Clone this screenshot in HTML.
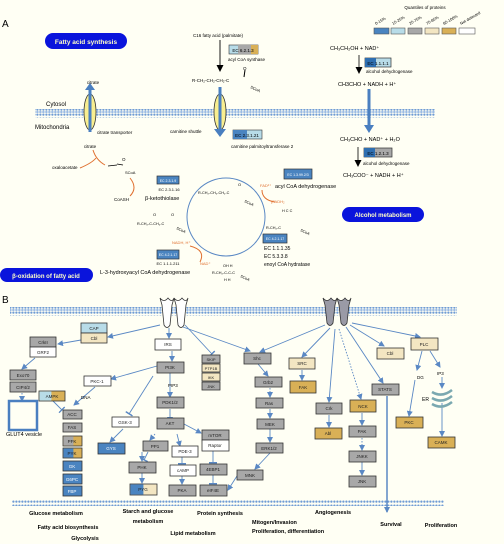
<!DOCTYPE html>
<html><head><meta charset="utf-8"><style>
html,body{margin:0;padding:0;background:#fffff4}
svg{display:block}
text{font-family:"Liberation Sans",sans-serif}
</style></head><body>
<svg width="504" height="544" viewBox="0 0 504 544" xmlns="http://www.w3.org/2000/svg">
<defs>
<pattern id="mem" width="3" height="9" patternUnits="userSpaceOnUse">
<rect width="3" height="9" fill="#fffff4"/>
<rect x="0.3" y="0.5" width="2.2" height="2.2" rx="1" fill="#6f9bd4"/>
<rect x="0.3" y="3" width="2.2" height="2" fill="#9bbbe4"/>
<rect x="0.3" y="5.5" width="2.2" height="2.2" rx="1" fill="#6f9bd4"/>
</pattern>
<marker id="ab" markerWidth="6" markerHeight="6" refX="5" refY="3" orient="auto" markerUnits="userSpaceOnUse"><path d="M0,0 L6,3 L0,6 Z" fill="#5a88c4"/></marker>
<marker id="ak" markerWidth="7" markerHeight="7" refX="6" refY="3.5" orient="auto" markerUnits="userSpaceOnUse"><path d="M0,0 L7,3.5 L0,7 Z" fill="#000"/></marker>
<marker id="tb" markerWidth="2" markerHeight="8" refX="1" refY="4" orient="auto" markerUnits="userSpaceOnUse"><rect width="1.5" height="8" fill="#5a88c4"/></marker>
</defs>
<rect width="504" height="544" fill="#fffff4"/>

<!-- Panel A -->
<text x="2" y="27" font-size="10">A</text>
<text x="425" y="9" font-size="4.5" text-anchor="middle">Quantiles of proteins</text>
<g font-size="4" transform="">
<text x="376" y="25" transform="rotate(-30 376 25)">0-15%</text>
<text x="393" y="25" transform="rotate(-30 393 25)">15-25%</text>
<text x="410" y="25" transform="rotate(-30 410 25)">25-75%</text>
<text x="427" y="25" transform="rotate(-30 427 25)">75-85%</text>
<text x="444" y="25" transform="rotate(-30 444 25)">85-100%</text>
<text x="461" y="25" transform="rotate(-30 461 25)">Not detected</text>
</g>
<g stroke="#555" stroke-width="0.6">
<rect x="374" y="28" width="15" height="6" fill="#4a84c0"/>
<rect x="391" y="28" width="14" height="6" fill="#b8dce8"/>
<rect x="408" y="28" width="14" height="6" fill="#a8a8a8"/>
<rect x="425" y="28" width="14" height="6" fill="#f3e6c2"/>
<rect x="442" y="28" width="14" height="6" fill="#d9b056"/>
<rect x="459" y="28" width="16" height="6" fill="#fff"/>
</g>

<rect x="45" y="33" width="82" height="16" rx="8" fill="#0a14dc"/>
<text x="86" y="44" font-size="6.5" font-weight="bold" fill="#ffffc8" text-anchor="middle">Fatty acid synthesis</text>

<rect x="35" y="109" width="400" height="9" fill="url(#mem)"/>
<text x="46" y="106" font-size="6">Cytosol</text>
<text x="35" y="129" font-size="6">Mitochondria</text>

<ellipse cx="90" cy="112" rx="6" ry="18" fill="#f8ee90" stroke="#333" stroke-width="0.8"/>
<line x1="90" y1="132" x2="90" y2="88" stroke="#4a7fc0" stroke-width="3"/>
<path d="M85,90 L90,83 L95,90 Z" fill="#4a7fc0"/>
<text x="93" y="84" font-size="4.5" text-anchor="middle">citrate</text>
<text x="97" y="134" font-size="4.5">citrate transporter</text>

<text x="218" y="37" font-size="4.5" text-anchor="middle">C16 fatty acid (palmitate)</text>
<line x1="220" y1="40" x2="220" y2="71" stroke="#000" stroke-width="0.9" marker-end="url(#ak)"/>
<rect x="229" y="45" width="29" height="9" fill="#b8dce8" stroke="#333" stroke-width="0.6"/>
<rect x="238" y="45" width="13" height="9" fill="#a8a8a8"/><rect x="251" y="45" width="7" height="9" fill="#d9b056"/>
<text x="243" y="52" font-size="4.5" text-anchor="middle">EC 6.2.1.3</text>
<text x="228" y="61" font-size="4.5">acyl CoA synthase</text>
<text x="192" y="82" font-size="4.5">R-CH₂-CH₂-CH₂-C</text>
<line x1="244" y1="77" x2="245" y2="70" stroke="#000" stroke-width="1"/>
<text x="243" y="70" font-size="4.5">O</text>
<text x="250" y="88" font-size="4" transform="rotate(25 250 88)">SCoA</text>
<ellipse cx="220" cy="112" rx="6" ry="18" fill="#f8ee90" stroke="#333" stroke-width="0.8"/>
<line x1="220" y1="87" x2="220" y2="130" stroke="#4a7fc0" stroke-width="3"/>
<path d="M214,129 L220,137 L226,129 Z" fill="#4a7fc0"/>
<text x="170" y="133" font-size="4.5">carnitine shuttle</text>
<rect x="233" y="130" width="29" height="9" fill="#b8dce8" stroke="#333" stroke-width="0.6"/>
<rect x="233" y="130" width="14" height="9" fill="#4a84c0"/>
<text x="247" y="137" font-size="4.5" text-anchor="middle">EC 2.3.1.21</text>
<text x="231" y="148" font-size="4.5">carnitine palmitoyltransferase 2</text>

<text x="330" y="50" font-size="5.5">CH₃CH₂OH + NAD⁺</text>
<line x1="359" y1="55" x2="359" y2="73" stroke="#000" stroke-width="0.8" marker-end="url(#ak)"/>
<rect x="365" y="58" width="26" height="9" fill="#b8dce8" stroke="#333" stroke-width="0.7"/>
<rect x="365" y="58" width="11" height="9" fill="#2f6fb0"/>
<text x="378" y="65" font-size="4.5" text-anchor="middle">EC 1.1.1.1</text>
<text x="366" y="73" font-size="4.5">alcohol dehydrogenase</text>
<text x="338" y="86" font-size="5.5">CH3CHO + NADH + H⁺</text>
<line x1="369" y1="89" x2="369" y2="126" stroke="#4a7fc0" stroke-width="3"/>
<path d="M364,125 L369,133 L374,125 Z" fill="#4a7fc0"/>
<text x="340" y="141" font-size="5.5">CH₃CHO + NAD⁺  + H₂O</text>
<line x1="358" y1="147" x2="358" y2="166" stroke="#000" stroke-width="0.8" marker-end="url(#ak)"/>
<rect x="364" y="148" width="28" height="9" fill="#a8a8a8" stroke="#333" stroke-width="0.7"/>
<rect x="364" y="148" width="11" height="9" fill="#2f6fb0"/>
<text x="378" y="155" font-size="4.5" text-anchor="middle">EC 1.2.1.3</text>
<text x="363" y="165" font-size="4.5">alcohol dehydrogenase</text>
<text x="343" y="177" font-size="5.5">CH₃COO⁻ + NADH + H⁺</text>

<rect x="342" y="207" width="82" height="15" rx="7.5" fill="#0a14dc"/>
<text x="383" y="217" font-size="6" font-weight="bold" fill="#ffffc8" text-anchor="middle">Alcohol metabolism</text>

<!-- TCA side -->
<text x="90" y="148" font-size="4.5" text-anchor="middle">citrate</text>
<text x="52" y="169" font-size="4.5">oxaloacetate</text>
<path d="M93,150 Q96,160 105,165 M80,168 Q92,163 96,158" stroke="#e07030" stroke-width="1" fill="none"/>
<path d="M108,166 L117,165" stroke="#000" stroke-width="0.8"/>
<line x1="117" y1="164" x2="123" y2="165" stroke="#000" stroke-width="0.8"/>
<text x="122" y="161" font-size="4.5">O</text>
<text x="125" y="174" font-size="4">SCoA</text>
<path d="M130,178 Q138,188 130,196" stroke="#e07030" stroke-width="1" fill="none"/>
<text x="114" y="201" font-size="4.5">CoASH</text>

<circle cx="226" cy="217" r="39" fill="none" stroke="#5a88c4" stroke-width="1"/>
<text x="198" y="194" font-size="3.8">R-CH₂-CH₂-CH₂-C</text>
<text x="238" y="186" font-size="4">O</text>
<text x="244" y="202" font-size="3.8" transform="rotate(25 244 202)">SCoA</text>
<rect x="157" y="176" width="22" height="8" fill="#4a84c0" stroke="#333" stroke-width="0.7"/>
<text x="168" y="182" font-size="3.5" fill="#fff" text-anchor="middle">EC 2.3.1.9</text>
<text x="169" y="191" font-size="4" text-anchor="middle">EC 2.3.1.16</text>
<text x="145" y="200" font-size="5.5">β-ketothiolase</text>
<rect x="284" y="169" width="28" height="10" fill="#4a84c0" stroke="#333" stroke-width="0.7"/>
<text x="298" y="176" font-size="3.5" fill="#fff" text-anchor="middle">EC 1.3.99.2/3</text>
<text x="275" y="188" font-size="5.5">acyl CoA dehydrogenase</text>
<text x="260" y="187" font-size="4" fill="#e07030">FAD²⁺</text>
<path d="M262,190 Q262,200 275,202" stroke="#e07030" stroke-width="1" fill="none"/>
<text x="271" y="203" font-size="4" fill="#e07030">(FADH₂</text>
<text x="282" y="212" font-size="3.8">H   C   C</text>
<text x="266" y="229" font-size="3.8">R-CH₂-C</text>
<text x="300" y="231" font-size="3.8" transform="rotate(25 300 231)">SCoA</text>
<rect x="263" y="234" width="24" height="9" fill="#4a84c0" stroke="#333" stroke-width="0.7"/>
<text x="275" y="240" font-size="3.5" fill="#fff" text-anchor="middle">EC 4.2.1.17</text>
<text x="264" y="250" font-size="5">EC 1.1.1.35</text>
<text x="264" y="258" font-size="5">EC 5.3.3.8</text>
<text x="264" y="266" font-size="5">enoyl CoA hydratase</text>
<text x="137" y="225" font-size="3.8">R-CH₂-C-CH₂-C</text>
<text x="153" y="216" font-size="4">O</text>
<text x="171" y="216" font-size="4">O</text>
<text x="176" y="229" font-size="3.8" transform="rotate(25 176 229)">SCoA</text>
<text x="172" y="244" font-size="4" fill="#e07030">NADH, H⁺</text>
<path d="M190,246 Q206,250 200,262" stroke="#e07030" stroke-width="1" fill="none"/>
<text x="200" y="265" font-size="4" fill="#e07030">NAD⁺</text>
<rect x="157" y="250" width="22" height="9" fill="#4a84c0" stroke="#333" stroke-width="0.7"/>
<text x="168" y="256" font-size="3.5" fill="#fff" text-anchor="middle">EC 4.2.1.17</text>
<text x="168" y="265" font-size="4" text-anchor="middle">EC 1.1.1.211</text>
<text x="100" y="274" font-size="5.5">L-3-hydroxyacyl CoA dehydrogenase</text>
<text x="223" y="267" font-size="3.8">OH H</text>
<text x="212" y="274" font-size="3.8">R-CH₂-C-C-C</text>
<text x="224" y="281" font-size="3.8">H H</text>
<text x="240" y="277" font-size="3.8" transform="rotate(25 240 277)">SCoA</text>

<rect x="0" y="268" width="93" height="14" rx="7" fill="#0a14dc"/>
<text x="46" y="278" font-size="6" font-weight="bold" fill="#ffffc8" text-anchor="middle">β-oxidation of fatty acid</text>

<!-- Panel B -->
<text x="2" y="303" font-size="10">B</text>
<rect x="10" y="307" width="447" height="9" fill="url(#mem)"/>
<rect x="12" y="500" width="432" height="6" fill="url(#mem)"/>

<!-- receptors -->
<g fill="#fff" stroke="#333" stroke-width="0.8">
<path d="M160,298 Q164,303 168,298 Q172,303 174,298 L172,305 L170,325 Q167,330 164,325 L162,305 Z"/>
<path d="M174,298 Q178,303 182,298 Q186,303 188,298 L186,305 L184,325 Q181,330 178,325 L176,305 Z"/>
</g>
<g fill="#9a9aa6" stroke="#333" stroke-width="0.8">
<path d="M323,298 Q327,303 331,298 Q335,303 337,298 L335,305 L333,323 Q330,328 327,323 L325,305 Z"/>
<path d="M337,298 Q341,303 345,298 Q349,303 351,298 L349,305 L347,323 Q344,328 341,323 L339,305 Z"/>
</g>

<g fill="none" stroke="#5a88c4" stroke-width="0.9" marker-end="url(#ab)">
<line x1="160" y1="325" x2="108" y2="337"/>
<line x1="81" y1="340" x2="58" y2="344"/>
<line x1="35" y1="358" x2="22" y2="369"/>
<line x1="169" y1="328" x2="169" y2="338"/>
<line x1="172" y1="351" x2="172" y2="361"/>
<line x1="183" y1="327" x2="250" y2="351"/>
<line x1="157" y1="366" x2="111" y2="379"/>
<line x1="95" y1="387" x2="74" y2="405"/>
<line x1="170" y1="373" x2="170" y2="397"/>
<line x1="170" y1="409" x2="170" y2="422"/>
<line x1="123" y1="429" x2="110" y2="442"/>
<line x1="177" y1="434" x2="180" y2="446"/>
<line x1="184" y1="424" x2="201" y2="433"/>
<line x1="142" y1="452" x2="142" y2="461"/>
<line x1="142" y1="473" x2="142" y2="483"/>
<line x1="182" y1="476" x2="182" y2="484"/>
<line x1="258" y1="364" x2="268" y2="376"/>
<line x1="270" y1="453" x2="255" y2="469"/>
<line x1="237" y1="476" x2="228" y2="490"/>
<line x1="270" y1="409" x2="270" y2="418"/>
<line x1="270" y1="429" x2="270" y2="442"/>
<line x1="325" y1="325" x2="260" y2="352"/>
<line x1="330" y1="328" x2="302" y2="357"/>
<line x1="302" y1="370" x2="302" y2="380"/>
<line x1="335" y1="329" x2="329" y2="402"/>
<line x1="329" y1="415" x2="329" y2="427"/>
<line x1="346" y1="327" x2="383" y2="383"/>
<line x1="350" y1="325" x2="384" y2="346"/>
<line x1="352" y1="323" x2="420" y2="337"/>
<line x1="422" y1="351" x2="417" y2="370"/>
<line x1="430" y1="351" x2="440" y2="367"/>
<line x1="415" y1="380" x2="409" y2="416"/>
<line x1="442" y1="377" x2="442" y2="388"/>
<line x1="442" y1="403" x2="442" y2="436"/>
<line x1="362" y1="462" x2="362" y2="475"/>
</g>
<g stroke="#5a88c4" stroke-width="0.9" fill="none">
<line x1="153" y1="376" x2="129" y2="414" marker-end="url(#tb)"/>
<line x1="185" y1="325" x2="212" y2="354" marker-end="url(#tb)"/>
<line x1="53" y1="401" x2="62" y2="410" marker-end="url(#tb)"/>
<line x1="213" y1="451" x2="213" y2="463" marker-end="url(#tb)"/>
<line x1="213" y1="475" x2="213" y2="484" marker-end="url(#tb)"/>
<line x1="182" y1="457" x2="182" y2="464" marker-end="url(#tb)"/>
<line x1="155" y1="434" x2="150" y2="440" stroke-dasharray="1.5,1.5" marker-end="url(#ab)"/>
<line x1="148" y1="452" x2="144" y2="460" marker-end="url(#tb)"/>
<line x1="22" y1="393" x2="22" y2="401" stroke-dasharray="1.5,1.5" marker-end="url(#ab)"/>
<line x1="270" y1="388" x2="270" y2="397" stroke-dasharray="1.5,1.5" marker-end="url(#ab)"/>
<line x1="339" y1="329" x2="361" y2="399" stroke-dasharray="1.5,1.5" marker-end="url(#ab)"/>
<line x1="362" y1="413" x2="362" y2="425" marker-end="url(#ab)"/>
<line x1="362" y1="438" x2="362" y2="450" stroke-dasharray="1.5,1.5" marker-end="url(#ab)"/>
<line x1="387" y1="396" x2="387" y2="512" stroke-width="1.5" marker-end="url(#ab)"/>
</g>
<rect x="9" y="401" width="28" height="29" fill="none" stroke="#4a7fc0" stroke-width="2.5"/>
<text x="6" y="436" font-size="5.5">GLUT4 vesicle</text>
<text x="168" y="387" font-size="4.5">PIP3</text>
<text x="81" y="399" font-size="4.5">DNA</text>
<text x="417" y="379" font-size="4.5">DG</text>
<text x="437" y="375" font-size="4.5">IP3</text>
<text x="422" y="401" font-size="5">ER</text>
<g fill="none" stroke="#7aa8b0" stroke-width="2.5">
<path d="M432,392 Q442,398 452,390"/><path d="M432,398 Q442,404 452,396"/><path d="M432,404 Q442,410 452,402"/>
</g>

<g stroke="#333" stroke-width="0.8" font-size="4.5" text-anchor="middle">
<!-- box defs: rect then text -->
<rect x="81" y="323" width="26" height="10" fill="#b8dce8"/>
<rect x="81" y="333" width="26" height="10" fill="#f3e6c2"/>
<rect x="30" y="337" width="26" height="10" fill="#a8a8a8"/>
<rect x="30" y="347" width="26" height="10" fill="#fff"/>
<rect x="10" y="370" width="26" height="10" fill="#a8a8a8"/>
<rect x="10" y="382" width="26" height="10" fill="#a8a8a8"/>
<rect x="39" y="391" width="26" height="10" fill="#d9b056"/>
<rect x="39.4" y="391.4" width="12" height="9.2" fill="#b8dce8" stroke="none"/>
<rect x="63" y="410" width="19" height="9" fill="#a8a8a8"/>
<rect x="63" y="423" width="19" height="9" fill="#a8a8a8"/>
<rect x="63" y="436" width="19" height="10" fill="#d9b056"/>
<rect x="63.4" y="436.4" width="10" height="9.2" fill="#a8a8a8" stroke="none"/>
<rect x="63" y="448" width="19" height="10" fill="#d9b056"/>
<rect x="63.4" y="448.4" width="10" height="9.2" fill="#4a84c0" stroke="none"/>
<rect x="63" y="461" width="19" height="10" fill="#4a84c0"/>
<rect x="63" y="474" width="19" height="10" fill="#4a84c0"/>
<rect x="63" y="486" width="19" height="10" fill="#4a84c0"/>
<rect x="155" y="339" width="26" height="11" fill="#fff"/>
<rect x="157" y="362" width="27" height="11" fill="#a8a8a8"/>
<rect x="157" y="397" width="27" height="11" fill="#a8a8a8"/>
<rect x="157" y="418" width="27" height="11" fill="#a8a8a8"/>
<rect x="84" y="376" width="27" height="10" fill="#fff"/>
<rect x="112" y="417" width="27" height="10" fill="#fff"/>
<rect x="98" y="443" width="27" height="11" fill="#4a84c0"/>
<rect x="143" y="441" width="25" height="10" fill="#a8a8a8"/>
<rect x="172" y="446" width="26" height="11" fill="#fff"/>
<rect x="129" y="462" width="27" height="11" fill="#a8a8a8"/>
<rect x="130" y="484" width="27" height="11" fill="#f3e6c2"/>
<rect x="130.4" y="484.4" width="13" height="10.2" fill="#4a84c0" stroke="none"/>
<rect x="170" y="465" width="26" height="11" fill="#fff"/>
<rect x="169" y="485" width="27" height="11" fill="#a8a8a8"/>
<rect x="202" y="430" width="27" height="10" fill="#a8a8a8"/>
<rect x="202" y="440" width="27" height="11" fill="#fff"/>
<rect x="200" y="464" width="27" height="11" fill="#a8a8a8"/>
<rect x="200" y="485" width="27" height="11" fill="#a8a8a8"/>
<rect x="202" y="355" width="18" height="8" fill="#a8a8a8"/>
<rect x="202" y="364" width="18" height="8" fill="#f3e6c2"/>
<rect x="202" y="373" width="18" height="8" fill="#f3e6c2"/>
<rect x="202" y="382" width="18" height="8" fill="#a8a8a8"/>
<rect x="244" y="353" width="27" height="11" fill="#a8a8a8"/>
<rect x="255" y="377" width="27" height="10" fill="#a8a8a8"/>
<rect x="256" y="398" width="27" height="10" fill="#a8a8a8"/>
<rect x="257" y="419" width="27" height="10" fill="#a8a8a8"/>
<rect x="256" y="443" width="27" height="10" fill="#a8a8a8"/>
<rect x="237" y="470" width="26" height="10" fill="#a8a8a8"/>
<rect x="289" y="358" width="26" height="11" fill="#f3e6c2"/>
<rect x="290" y="381" width="26" height="12" fill="#d9b056"/>
<rect x="316" y="403" width="26" height="11" fill="#a8a8a8"/>
<rect x="315" y="428" width="27" height="11" fill="#d9b056"/>
<rect x="350" y="400" width="26" height="12" fill="#d9b056"/>
<rect x="349" y="426" width="27" height="11" fill="#a8a8a8"/>
<rect x="349" y="451" width="27" height="11" fill="#a8a8a8"/>
<rect x="349" y="476" width="27" height="11" fill="#a8a8a8"/>
<rect x="377" y="348" width="27" height="11" fill="#f3e6c2"/>
<rect x="372" y="384" width="27" height="11" fill="#a8a8a8"/>
<rect x="411" y="338" width="27" height="12" fill="#f3e6c2"/>
<rect x="396" y="417" width="27" height="11" fill="#d9b056"/>
<rect x="428" y="437" width="27" height="11" fill="#d9b056"/>
</g>
<g font-size="4.5" text-anchor="middle" fill="#222">
<text x="94" y="330">CAP</text><text x="94" y="340">Cbl</text>
<text x="43" y="344">CrkII</text><text x="43" y="354">GRF2</text>
<text x="23" y="377">Exo70</text><text x="23" y="389">CIP4/2</text>
<text x="52" y="398">AMPK</text>
<text x="72" y="416">ACC</text><text x="72" y="429">FAS</text>
<text x="72" y="443">PFK</text><text x="72" y="455">PYK</text>
<text x="72" y="468" fill="#fff">GK</text><text x="72" y="481" fill="#fff">G6PC</text><text x="72" y="493" fill="#fff">FBP</text>
<text x="168" y="346">IRS</text><text x="170" y="369">PI3K</text>
<text x="170" y="404">PDK1/2</text><text x="170" y="425">AKT</text>
<text x="97" y="383">PKC-1</text><text x="125" y="424">GSK-3</text>
<text x="111" y="450" fill="#fff">GYS</text>
<text x="155" y="448">PP1</text><text x="185" y="453">PDE-3</text>
<text x="142" y="469">PHK</text><text x="143" y="491">PYG</text>
<text x="183" y="472">cAMP</text><text x="182" y="492">PKA</text>
<text x="215" y="437">mTOR</text><text x="215" y="447">Raptor</text>
<text x="213" y="471">4EBP1</text><text x="213" y="492">eIF4E</text>
<g font-size="4"><text x="211" y="361">SKIP</text><text x="211" y="370">PTP1B</text><text x="211" y="379">IKK</text><text x="211" y="388">JNK</text></g>
<text x="257" y="360">Shc</text><text x="268" y="384">Grb2</text>
<text x="269" y="405">Ras</text><text x="270" y="426">MEK</text>
<text x="269" y="450">ERK1/2</text><text x="250" y="477">MNK</text>
<text x="302" y="365">SRC</text><text x="303" y="389">FAK</text>
<text x="329" y="410">Crk</text><text x="328" y="435">Abl</text>
<text x="363" y="408">NCK</text><text x="362" y="433">PAK</text>
<text x="362" y="458">JNKK</text><text x="362" y="483">JNK</text>
<text x="390" y="355">Cbl</text><text x="385" y="391">STATS</text>
<text x="424" y="346">PLC</text><text x="409" y="424">PKC</text>
<text x="441" y="444">CAMK</text>
</g>

<g font-size="5.5" font-weight="bold" text-anchor="middle">
<text x="56" y="515">Glucose metabolism</text>
<text x="68" y="529">Fatty acid biosynthesis</text>
<text x="85" y="540">Glycolysis</text>
<text x="148" y="513">Starch and glucose</text>
<text x="148" y="523">metabolism</text>
<text x="220" y="515">Protein synthesis</text>
<text x="193" y="535">Lipid metabolism</text>
<text x="333" y="514">Angiogenesis</text>
<text x="391" y="526">Survival</text>
<text x="441" y="527">Proliferation</text>
</g>
<g font-size="5.5" font-weight="bold">
<text x="252" y="524">Mitogen/Invasion</text>
<text x="252" y="533">Proliferation, differentiation</text>
</g>
</svg>
</body></html>
